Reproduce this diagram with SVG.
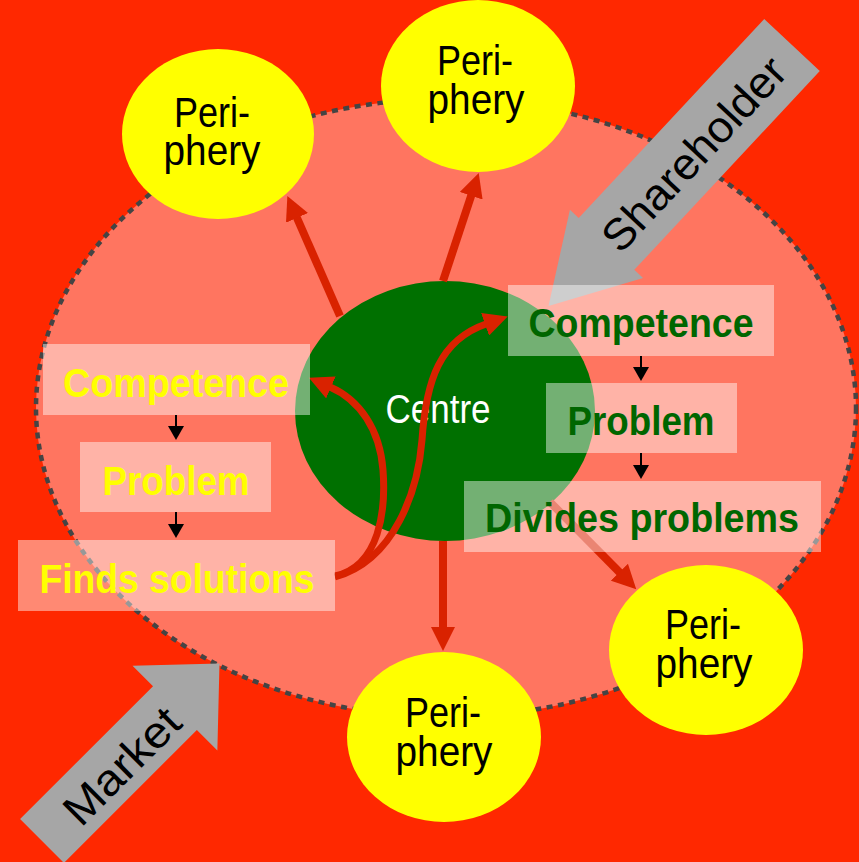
<svg xmlns="http://www.w3.org/2000/svg" width="859" height="862" viewBox="0 0 859 862">
<style>
.t{font-family:"Liberation Sans Narrow","Liberation Sans",Arial,sans-serif}
.peri{fill:#FFFF00}
.pt{font-size:42px;fill:#000;text-anchor:middle}
.box{fill:#FFFFFF;fill-opacity:0.45}
.bt{font-size:41px;font-weight:bold;text-anchor:middle}
.yl{fill:#FFFF00}
.gr{fill:#006600}
.ra{fill:none;stroke:#D92200;stroke-width:8;marker-end:url(#ah)}
.rc{fill:none;stroke:#D92200;stroke-width:7;marker-end:url(#ah)}
.ba{fill:none;stroke:#000;stroke-width:2;marker-end:url(#sh)}
.ga{fill:#A6A6A6}
.gt{font-size:44px;fill:#000;text-anchor:middle}
</style>
<defs>
<marker id="ah" markerUnits="userSpaceOnUse" viewBox="0 0 24 24" markerWidth="24" markerHeight="24" refX="1" refY="12" orient="auto"><path d="M0,0 L24,12 L0,24 z" fill="#D92200"/></marker>
<marker id="sh" markerUnits="userSpaceOnUse" viewBox="0 0 14 16" markerWidth="14" markerHeight="16" refX="1" refY="8" orient="auto"><path d="M0,0 L14,8 L0,16 z" fill="#000"/></marker>
</defs>
<rect x="0" y="0" width="859" height="862" fill="#FF2800"/>
<g id="organisation">
<ellipse cx="446" cy="408" rx="410" ry="309" fill="#FF7560" stroke="#444444" stroke-width="4.5" stroke-dasharray="6 5.5"/>
</g>
<g id="centre">
<ellipse cx="445" cy="411" rx="150" ry="130" fill="#007000"/>
<text class="t" x="438" y="423" font-size="41" fill="#FFFFFF" text-anchor="middle" textLength="105" lengthAdjust="spacingAndGlyphs">Centre</text>
</g>
<g id="shareholder">
<polygon class="ga" transform="translate(792,45) rotate(133)" points="0,-38 272,-38 272,-50 357,0 272,50 272,38 0,38"/>
<text class="t gt" transform="translate(694,154) rotate(-47)" x="0" y="15" textLength="248" lengthAdjust="spacingAndGlyphs">Shareholder</text>
</g>
<g id="market">
<polygon class="ga" transform="translate(42,841) rotate(-45)" points="0,-31 188,-31 188,-60 251,0 188,60 188,31 0,31"/>
<text class="t gt" transform="translate(122,766) rotate(-45)" x="0" y="15" textLength="146" lengthAdjust="spacingAndGlyphs">Market</text>
</g>
<g id="connectors">
<path class="ra" d="M340,316 L296.6,217"/>
<path class="ra" d="M443,281 L471.5,194.8"/>
<path class="ra" d="M443,541 L443,628"/>
<path class="ra" d="M550,502 L620.1,572.9"/>
<path class="rc" d="M335,576 C380,566 386,510 383,470 C380,430 360,400 330,387"/>
<path class="rc" d="M335,577 C395,560 418,490 422,440 C426,380 440,340 486,324"/>
<path class="ba" d="M176,415 V427"/>
<path class="ba" d="M176,512 V525"/>
<path class="ba" d="M641,356 V368"/>
<path class="ba" d="M641,453 V466"/>
</g>
<g id="periphery-top-left">
<ellipse class="peri" cx="218" cy="134" rx="96" ry="85"/>
<text class="t pt"><tspan x="212" y="127" textLength="76" lengthAdjust="spacingAndGlyphs">Peri-</tspan><tspan x="212" y="165" textLength="97" lengthAdjust="spacingAndGlyphs">phery</tspan></text>
</g>
<g id="periphery-top">
<ellipse class="peri" cx="478" cy="86" rx="97" ry="86"/>
<text class="t pt"><tspan x="475" y="75" textLength="76" lengthAdjust="spacingAndGlyphs">Peri-</tspan><tspan x="476" y="114" textLength="97" lengthAdjust="spacingAndGlyphs">phery</tspan></text>
</g>
<g id="periphery-right">
<ellipse class="peri" cx="706" cy="650" rx="97" ry="85"/>
<text class="t pt"><tspan x="703" y="639" textLength="76" lengthAdjust="spacingAndGlyphs">Peri-</tspan><tspan x="704" y="678" textLength="97" lengthAdjust="spacingAndGlyphs">phery</tspan></text>
</g>
<g id="periphery-bottom">
<ellipse class="peri" cx="444" cy="737" rx="97" ry="85"/>
<text class="t pt"><tspan x="443" y="727" textLength="76" lengthAdjust="spacingAndGlyphs">Peri-</tspan><tspan x="444" y="766" textLength="97" lengthAdjust="spacingAndGlyphs">phery</tspan></text>
</g>
<g id="left-competence">
<rect class="box" x="43" y="344" width="267" height="71"/>
<text class="t bt yl" x="176" y="397" textLength="226" lengthAdjust="spacingAndGlyphs">Competence</text>
</g>
<g id="left-problem">
<rect class="box" x="80" y="442" width="191" height="70"/>
<text class="t bt yl" x="176" y="495" textLength="147" lengthAdjust="spacingAndGlyphs">Problem</text>
</g>
<g id="left-finds-solutions">
<rect class="box" x="18" y="540" width="317" height="71"/>
<text class="t bt yl" x="177" y="593" textLength="275" lengthAdjust="spacingAndGlyphs">Finds solutions</text>
</g>
<g id="right-competence">
<rect class="box" x="508" y="285" width="266" height="71"/>
<text class="t bt gr" x="641" y="337" textLength="225" lengthAdjust="spacingAndGlyphs">Competence</text>
</g>
<g id="right-problem">
<rect class="box" x="546" y="383" width="191" height="70"/>
<text class="t bt gr" x="641" y="435" textLength="147" lengthAdjust="spacingAndGlyphs">Problem</text>
</g>
<g id="right-divides-problems">
<rect class="box" x="464" y="481" width="357" height="71"/>
<text class="t bt gr" x="642" y="532" textLength="314" lengthAdjust="spacingAndGlyphs">Divides problems</text>
</g>
</svg>
